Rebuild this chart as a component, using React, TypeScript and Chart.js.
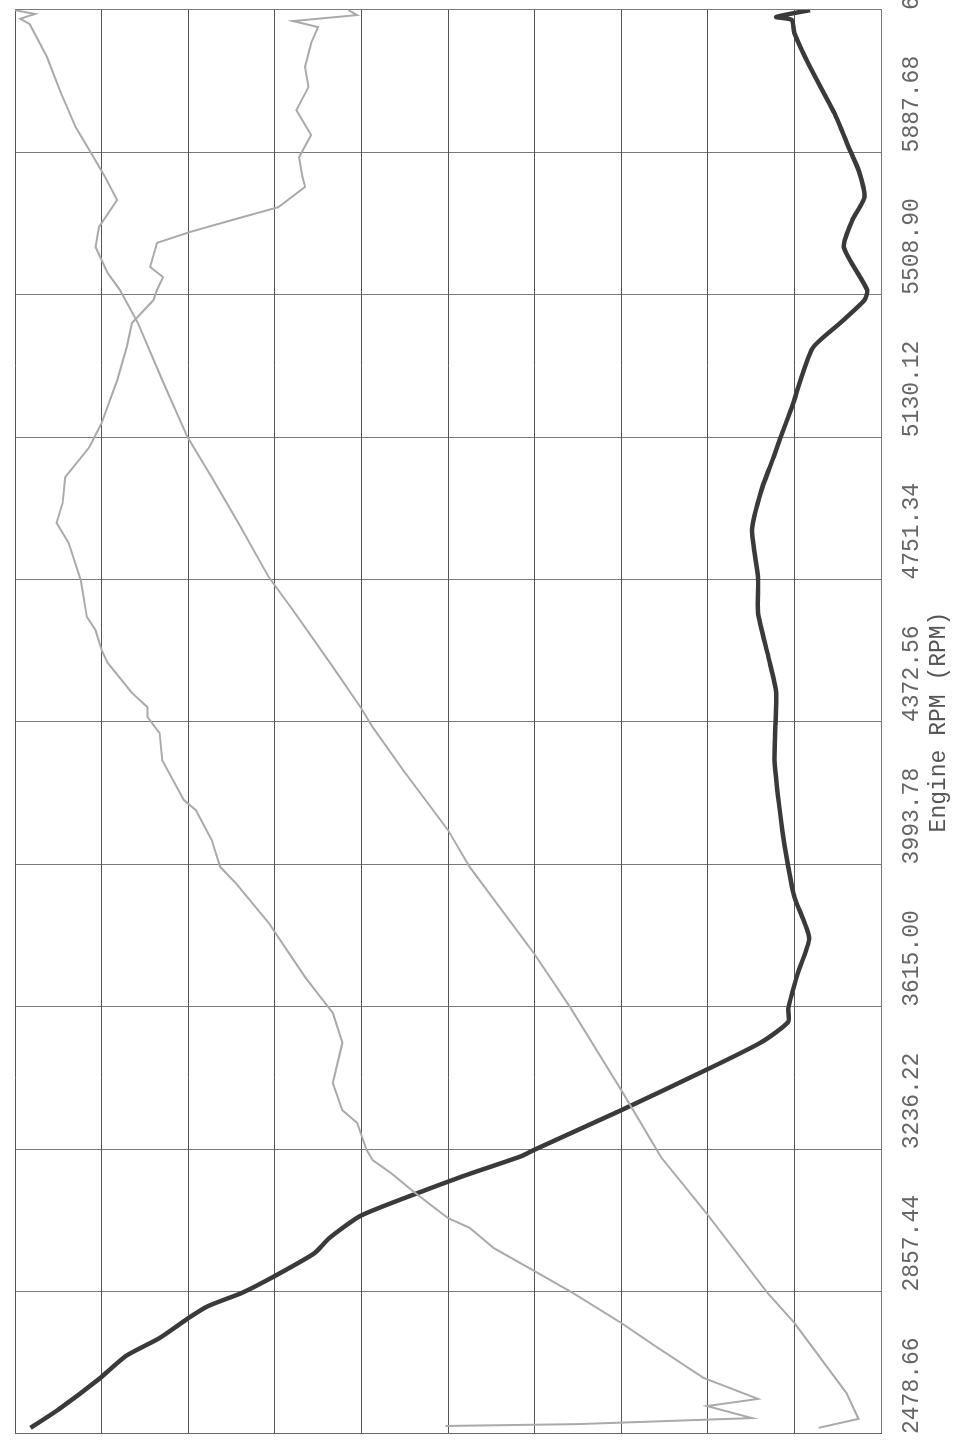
import { useEffect, useRef } from "react";
import { Chart, registerables } from "chart.js";

Chart.register(...registerables);

// Engine RPM tick labels (x axis of the original, drawn rotated)
const rpmTicks = [2478.66, 2857.44, 3236.22, 3615.0, 3993.78, 4372.56, 4751.34, 5130.12, 5508.9, 5887.68, 6266.46];
const axisTitle = "Engine RPM (RPM)";

// Dark thick curve
const darkRpm = [2495, 2545, 2625, 2686, 2734, 2785, 2819, 2854, 2899, 2960, 3000, 3059, 3117, 3165, 3218, 3234, 3340, 3447, 3521, 3575, 3612, 3705, 3798, 3907, 3987, 4085, 4271, 4450, 4545, 4663, 4758, 4883, 4990, 5077, 5123, 5210, 5367, 5434, 5495, 5522, 5636, 5708, 5769, 5841, 5894, 5993, 6115, 6205, 6240, 6248, 6266];
const darkVal = [98.2, 94.9, 90.3, 87.2, 83.3, 80.1, 77.7, 73.8, 70.0, 65.4, 63.7, 60.1, 53.8, 48.2, 41.5, 40.1, 30.0, 20.2, 13.8, 10.7, 10.7, 9.6, 8.3, 10.0, 10.7, 11.4, 12.3, 12.1, 13.0, 14.2, 14.2, 14.9, 13.8, 12.4, 11.7, 10.3, 7.9, 4.7, 1.9, 1.6, 4.3, 3.3, 1.9, 2.6, 3.6, 5.4, 8.2, 10.0, 10.3, 12.1, 8.2];

// Jagged light curve
const jagRpm = [2500, 2505, 2521, 2553, 2572, 2628, 2713, 2774, 2854, 2912, 2973, 3027, 3053, 3120, 3173, 3207, 3234, 3306, 3340, 3412, 3519, 3599, 3652, 3694, 3766, 3838, 3944, 3987, 4059, 4138, 4165, 4271, 4343, 4386, 4412, 4450, 4530, 4564, 4617, 4652, 4750, 4849, 4902, 4955, 5024, 5104, 5168, 5282, 5370, 5434, 5495, 5522, 5556, 5583, 5647, 5676, 5708, 5742, 5796, 5822, 5875, 5934, 6000, 6062, 6115, 6179, 6221, 6237, 6253, 6266];
const jagVal = [50.3, 35.0, 14.9, 20.1, 14.2, 20.5, 26.1, 30.0, 35.6, 40.0, 44.7, 47.5, 50.0, 53.8, 56.6, 58.7, 59.4, 60.5, 62.2, 63.3, 62.2, 63.3, 65.1, 66.5, 68.6, 70.7, 74.5, 76.3, 77.3, 79.1, 80.5, 83.0, 83.3, 84.7, 84.7, 86.5, 89.3, 90.0, 90.7, 91.7, 92.4, 93.8, 95.2, 94.5, 94.2, 91.4, 90.0, 88.2, 87.1, 86.5, 84.0, 83.6, 82.9, 84.4, 83.6, 79.8, 74.9, 69.6, 66.5, 66.8, 67.2, 65.8, 67.5, 66.1, 66.5, 65.8, 65.0, 67.9, 60.5, 61.5];

// Smooth light diagonal curve
const diagRpm = [2495, 2519, 2588, 2774, 2854, 3064, 3215, 3394, 3614, 3758, 3987, 4085, 4245, 4359, 4412, 4519, 4670, 4758, 4902, 5024, 5131, 5282, 5434, 5522, 5567, 5636, 5689, 5761, 5822, 5886, 5955, 6046, 6141, 6229, 6243, 6256, 6266];
const diagVal = [7.2, 2.6, 4.0, 10.0, 13.1, 20.1, 25.4, 30.0, 35.9, 40.1, 47.5, 50.0, 55.2, 58.7, 60.1, 63.3, 67.9, 70.7, 74.2, 77.3, 80.1, 83.0, 85.8, 87.9, 89.3, 90.7, 90.3, 88.2, 89.6, 91.2, 93.0, 94.7, 96.3, 98.3, 99.4, 97.7, 100.0];

const CW = 1446;
const CH = 953;
const FONT = "'Liberation Mono', 'Courier New', monospace";

export default function App() {
  const ref = useRef<HTMLCanvasElement | null>(null);

  useEffect(() => {
    const canvas = ref.current;
    if (!canvas) return;
    const pts = (xs: number[], ys: number[]) => xs.map((x, i) => ({ x, y: ys[i] }));
    const chart = new Chart(canvas, {
      type: "line",
      data: {
        datasets: [
          { data: pts(diagRpm, diagVal), borderColor: "#aaaaaa", borderWidth: 2, pointRadius: 0, tension: 0 },
          { data: pts(jagRpm, jagVal), borderColor: "#aaaaaa", borderWidth: 2, pointRadius: 0, tension: 0 },
          { data: pts(darkRpm, darkVal), borderColor: "#3a3a3a", borderWidth: 4.5, pointRadius: 0, tension: 0.2 },
        ],
      },
      options: {
        animation: false,
        responsive: false,
        devicePixelRatio: 1,
        events: [],
        layout: { padding: { left: 12, right: 10, top: 15, bottom: 0 } },
        plugins: { legend: { display: false }, tooltip: { enabled: false } },
        scales: {
          x: {
            type: "linear",
            position: "bottom",
            min: rpmTicks[0],
            max: rpmTicks[rpmTicks.length - 1],
            afterBuildTicks: (s: any) => {
              s.ticks = rpmTicks.map((v) => ({ value: v }));
            },
            afterFit: (s: any) => {
              s.height = 72;
              s.paddingLeft = 0;
              s.paddingRight = 0;
            },
            ticks: {
              autoSkip: false,
              maxRotation: 0,
              minRotation: 0,
              align: "start",
              padding: 17,
              color: "#666",
              font: { family: FONT, size: 23 },
              callback: (v: any) => Number(v).toFixed(2),
            },
            grid: { color: "#7a7a7a", lineWidth: 1, drawTicks: false },
            border: { color: "#7a7a7a", width: 1 },
            title: {
              display: true,
              text: axisTitle,
              color: "#555",
              font: { family: FONT, size: 23 },
              padding: { top: 0, bottom: 0 },
            },
          },
          y: {
            type: "linear",
            min: 0,
            max: 100,
            afterFit: (s: any) => {
              s.width = 0;
            },
            ticks: { display: false, stepSize: 10 },
            grid: { color: "#555", lineWidth: 1, drawTicks: false },
            border: { color: "#666", width: 1 },
          },
        },
      },
    } as any);
    return () => chart.destroy();
  }, []);

  return (
    <div style={{ position: "absolute", left: 0, top: 0, width: 953, height: 1446, overflow: "hidden", background: "#fff" }}>
      <canvas
        ref={ref}
        width={CW}
        height={CH}
        style={{
          position: "absolute",
          left: 0,
          top: 0,
          width: CW + "px",
          height: CH + "px",
          transformOrigin: "0 0",
          transform: `translateY(${CW}px) rotate(-90deg)`,
        }}
      />
    </div>
  );
}
